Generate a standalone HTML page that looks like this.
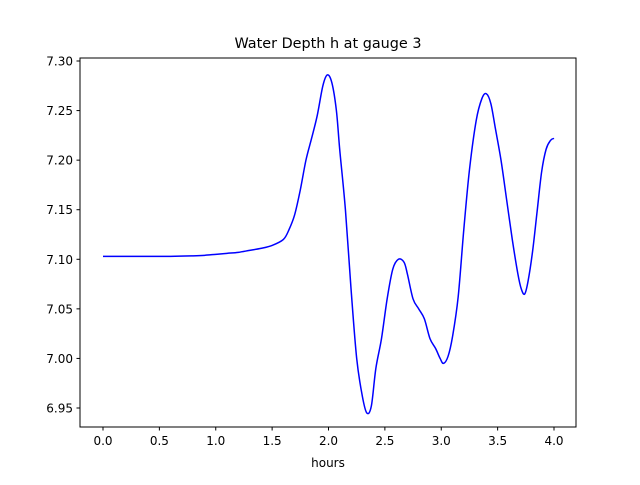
<!DOCTYPE html>
<html><head><meta charset="utf-8"><style>
body{margin:0;background:#fff;}
svg text{font-family:"DejaVu Sans","Liberation Sans",sans-serif;fill:#000;}
</style></head><body>
<svg width="640" height="480" xmlns="http://www.w3.org/2000/svg">
<rect width="640" height="480" fill="#fff"/>
<text x="328" y="48" font-size="14.4" text-anchor="middle">Water Depth h at gauge 3</text>
<g id="plot"></g>
<rect x="80" y="58" width="496" height="369" fill="none" stroke="#000" stroke-width="1"/>
<text x="328" y="467" font-size="12" text-anchor="middle">hours</text>
<g id="xt"></g><g id="yt"></g>
</svg>
<script>
const hours=[0,0.3,0.6,0.8,0.9,1.0,1.1,1.2,1.3,1.4,1.5,1.6,1.65,1.7,1.75,1.8,1.85,1.9,1.95,1.99,2.03,2.07,2.1,2.15,2.2,2.25,2.3,2.34,2.38,2.42,2.47,2.52,2.57,2.62,2.67,2.7,2.75,2.8,2.85,2.9,2.95,2.99,3.02,3.06,3.1,3.15,3.2,3.25,3.31,3.36,3.40,3.44,3.48,3.53,3.58,3.63,3.68,3.71,3.74,3.77,3.81,3.85,3.89,3.93,3.97,4.0];
const depth=[7.103,7.103,7.103,7.1035,7.104,7.105,7.106,7.107,7.109,7.111,7.114,7.120,7.130,7.145,7.170,7.200,7.222,7.245,7.275,7.286,7.278,7.250,7.210,7.150,7.070,7.000,6.962,6.945,6.952,6.990,7.020,7.060,7.090,7.100,7.097,7.085,7.060,7.050,7.040,7.020,7.010,7.000,6.995,7.002,7.022,7.062,7.130,7.190,7.240,7.262,7.267,7.257,7.232,7.200,7.160,7.120,7.085,7.070,7.065,7.078,7.108,7.148,7.188,7.211,7.220,7.222];
const xTicks=[0,0.5,1.0,1.5,2.0,2.5,3.0,3.5,4.0];
const yTicks=[6.95,7.00,7.05,7.10,7.15,7.20,7.25,7.30];
const X=v=>103+v*112.75;
const Y=v=>408-(v-6.95)*991.4;
const NS="http://www.w3.org/2000/svg";
const plot=document.getElementById('plot');
let pts=hours.map((h,i)=>[X(h),Y(depth[i])]);
let d=`M${pts[0][0]},${pts[0][1]}`;
for(let i=0;i<pts.length-1;i++){
 const p0=pts[Math.max(0,i-1)],p1=pts[i],p2=pts[i+1],p3=pts[Math.min(pts.length-1,i+2)];
 const c1=[p1[0]+(p2[0]-p0[0])/6,p1[1]+(p2[1]-p0[1])/6];
 const c2=[p2[0]-(p3[0]-p1[0])/6,p2[1]-(p3[1]-p1[1])/6];
 d+=` C${c1[0]},${c1[1]} ${c2[0]},${c2[1]} ${p2[0]},${p2[1]}`;
}
const path=document.createElementNS(NS,'path');
path.setAttribute('d',d);path.setAttribute('fill','none');path.setAttribute('stroke','#0000ff');path.setAttribute('stroke-width','1.5');


plot.appendChild(path);
const xt=document.getElementById('xt');
xTicks.forEach(t=>{
 const l=document.createElementNS(NS,'line');
 l.setAttribute('x1',X(t));l.setAttribute('x2',X(t));l.setAttribute('y1',427);l.setAttribute('y2',430.5);l.setAttribute('stroke','#000');
 
 
 xt.appendChild(l);
 const tx=document.createElementNS(NS,'text');
 tx.setAttribute('x',X(t));tx.setAttribute('y',445);tx.setAttribute('font-size','12');tx.setAttribute('text-anchor','middle');
 tx.textContent=t.toFixed(1);
 
 
 xt.appendChild(tx);
});
const yt=document.getElementById('yt');
yTicks.forEach(t=>{
 const l=document.createElementNS(NS,'line');
 l.setAttribute('x1',76.5);l.setAttribute('x2',80);l.setAttribute('y1',Y(t));l.setAttribute('y2',Y(t));l.setAttribute('stroke','#000');
 
 
 yt.appendChild(l);
 const tx=document.createElementNS(NS,'text');
 tx.setAttribute('x',73);tx.setAttribute('y',Y(t)+4.5);tx.setAttribute('font-size','12');tx.setAttribute('text-anchor','end');
 tx.textContent=t.toFixed(2);
 
 
 yt.appendChild(tx);
});
</script>
</body></html>
